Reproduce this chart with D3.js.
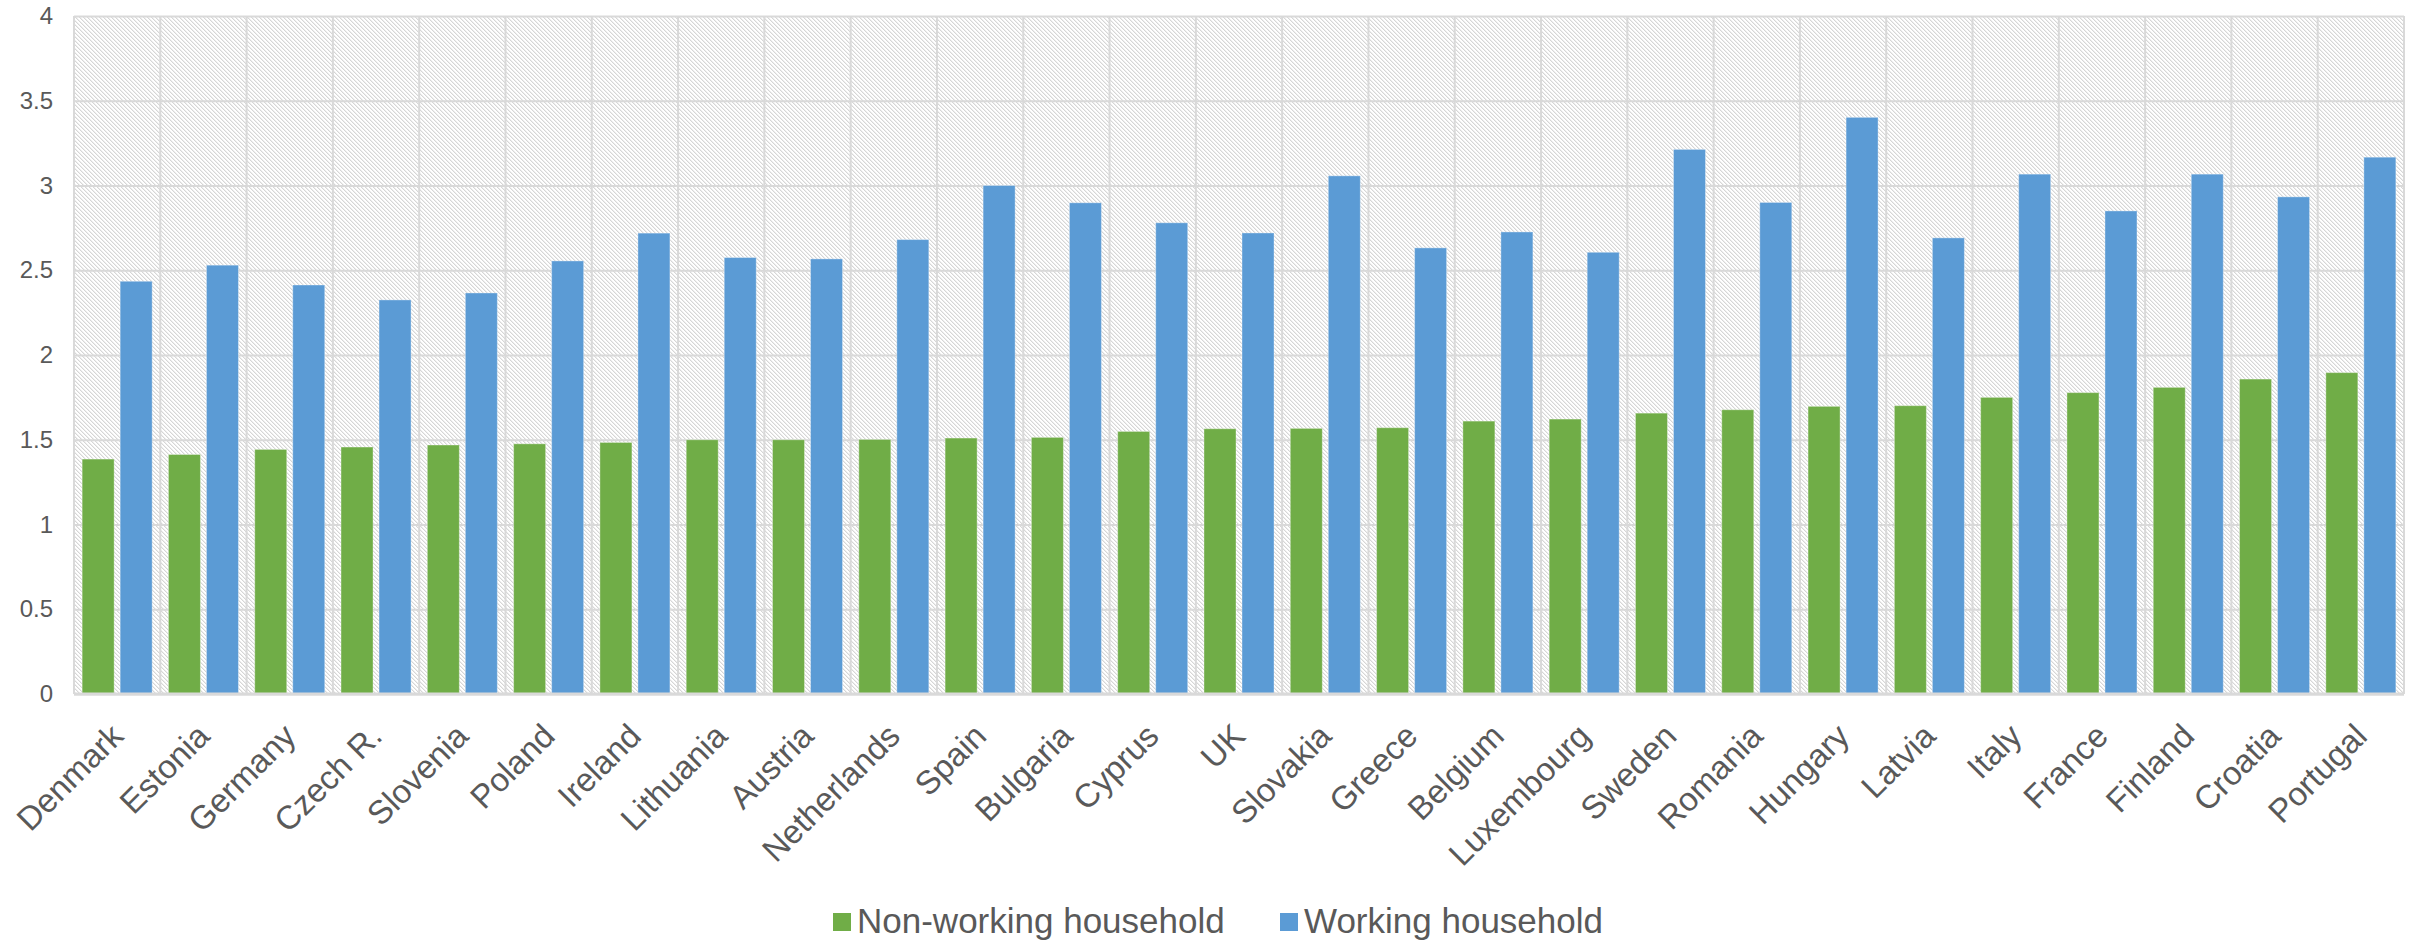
<!DOCTYPE html>
<html>
<head>
<meta charset="utf-8">
<script src="https://cdn.jsdelivr.net/npm/d3@7"></script>
<style>
    html, body { margin: 0; padding: 0; background: #fff; }
    #chart { width: 2413px; height: 942px; }
    text { font-family: "Liberation Sans", Arial, sans-serif; }
</style>
</head>
<body>
<div id="chart"></div>
<script>
const countries = ["Denmark", "Estonia", "Germany", "Czech R.", "Slovenia", "Poland", "Ireland",
    "Lithuania", "Austria", "Netherlands", "Spain", "Bulgaria", "Cyprus", "UK", "Slovakia",
    "Greece", "Belgium", "Luxembourg", "Sweden", "Romania", "Hungary", "Latvia", "Italy",
    "France", "Finland", "Croatia", "Portugal"];

const nonWorking = [1.386, 1.413, 1.443, 1.457, 1.469, 1.476, 1.484, 1.50, 1.50, 1.502, 1.51,
    1.514, 1.549, 1.565, 1.567, 1.571, 1.61, 1.622, 1.657, 1.677, 1.697, 1.701, 1.75, 1.778,
    1.809, 1.858, 1.896];

const working = [2.435, 2.53, 2.413, 2.325, 2.366, 2.555, 2.719, 2.575, 2.567, 2.681, 3.0,
    2.898, 2.78, 2.72, 3.057, 2.632, 2.726, 2.606, 3.213, 2.90, 3.402, 2.691, 3.067, 2.85,
    3.067, 2.933, 3.167];

const seriesNames = ["Non-working household", "Working household"];
const seriesColors = ["#70ad47", "#5b9bd5"];
const yTicks = [0, 0.5, 1, 1.5, 2, 2.5, 3, 3.5, 4];

function drawChart() {
    const W = 2413, H = 942;
    const margin = { top: 16, right: 9, bottom: 248, left: 74 };
    const width = W - margin.left - margin.right;
    const height = H - margin.top - margin.bottom;

    const svg = d3.select("#chart")
        .append("svg")
        .attr("width", W)
        .attr("height", H);

    // Excel-like downward diagonal hatch, pixel aligned
    const defs = svg.append("defs");
    const pat = defs.append("pattern")
        .attr("id", "hatch")
        .attr("patternUnits", "userSpaceOnUse")
        .attr("width", 4)
        .attr("height", 4);
    pat.append("rect").attr("width", 4).attr("height", 4).attr("fill", "#fff");
    for (let r = 0; r < 4; r++) {
        pat.append("rect")
            .attr("x", r).attr("y", r)
            .attr("width", 1).attr("height", 1)
            .attr("fill", "#d6d6d6")
            .attr("shape-rendering", "crispEdges");
        pat.append("rect")
            .attr("x", (r + 1) % 4).attr("y", r)
            .attr("width", 1).attr("height", 1)
            .attr("fill", "#eeeeee")
            .attr("shape-rendering", "crispEdges");
    }

    const chart = svg.append("g")
        .attr("transform", `translate(${margin.left},${margin.top})`);

    chart.append("rect")
        .attr("width", width)
        .attr("height", height)
        .attr("fill", "url(#hatch)");

    const x0 = d3.scaleBand()
        .domain(countries)
        .range([0, width])
        .padding(0);

    const x1 = d3.scaleBand()
        .domain(seriesNames)
        .range([0, x0.bandwidth()])
        .paddingInner(0.158)
        .paddingOuter(0.214);

    const y = d3.scaleLinear()
        .domain([0, 4])
        .range([height, 0]);

    // horizontal gridlines + y labels
    const yAxis = d3.axisLeft(y)
        .tickValues(yTicks)
        .tickSize(-width)
        .tickPadding(21)
        .tickFormat(d => d);

    const gy = chart.append("g").call(yAxis);
    gy.select(".domain").remove();
    gy.selectAll("line").attr("stroke", "#d9d9d9").attr("stroke-width", 2);
    gy.selectAll("text")
        .style("font-size", "24px")
        .attr("fill", "#595959");

    // vertical gridlines at category boundaries
    const bounds = countries.map(c => x0(c)).concat([width]);
    chart.append("g")
        .selectAll("line")
        .data(bounds)
        .enter()
        .append("line")
        .attr("x1", d => d).attr("x2", d => d)
        .attr("y1", 0).attr("y2", height)
        .attr("stroke", "#d9d9d9")
        .attr("stroke-width", 2);

    // bars
    const rows = countries.map((c, i) => ({
        country: c,
        values: [
            { key: seriesNames[0], value: nonWorking[i] },
            { key: seriesNames[1], value: working[i] }
        ]
    }));

    const color = d3.scaleOrdinal().domain(seriesNames).range(seriesColors);

    const groups = chart.selectAll(".grp")
        .data(rows)
        .enter()
        .append("g")
        .attr("class", "grp")
        .attr("transform", d => `translate(${x0(d.country)},0)`);

    groups.selectAll("rect")
        .data(d => d.values)
        .enter()
        .append("rect")
        .attr("x", d => x1(d.key))
        .attr("y", d => y(d.value))
        .attr("width", x1.bandwidth())
        .attr("height", d => y(0) - y(d.value))
        .attr("fill", d => color(d.key))
        .attr("stroke", "#fff")
        .attr("stroke-opacity", 0.35)
        .attr("stroke-width", 1);

    // x axis baseline
    chart.append("line")
        .attr("x1", 0).attr("x2", width)
        .attr("y1", height).attr("y2", height)
        .attr("stroke", "#d9d9d9")
        .attr("stroke-width", 3);

    // rotated category labels
    chart.append("g")
        .selectAll("text")
        .data(countries)
        .enter()
        .append("text")
        .attr("transform", d => `translate(${x0(d) + x0.bandwidth() / 2 + 8},${height + 44}) rotate(-45)`)
        .attr("text-anchor", "end")
        .style("font-size", "33px")
        .attr("fill", "#595959")
        .text(d => d);

    // legend
    const legend = svg.append("g").attr("transform", "translate(833,913)");
    const items = legend.selectAll(".item")
        .data(seriesNames)
        .enter()
        .append("g")
        .attr("class", "item")
        .attr("transform", (d, i) => `translate(${i * 447},0)`);

    items.append("rect")
        .attr("width", 18)
        .attr("height", 18)
        .attr("fill", d => color(d));

    items.append("text")
        .attr("x", 24)
        .attr("y", 20)
        .style("font-size", "35px")
        .attr("fill", "#595959")
        .text(d => d);
}

window.addEventListener("load", drawChart);
</script>
</body>
</html>
